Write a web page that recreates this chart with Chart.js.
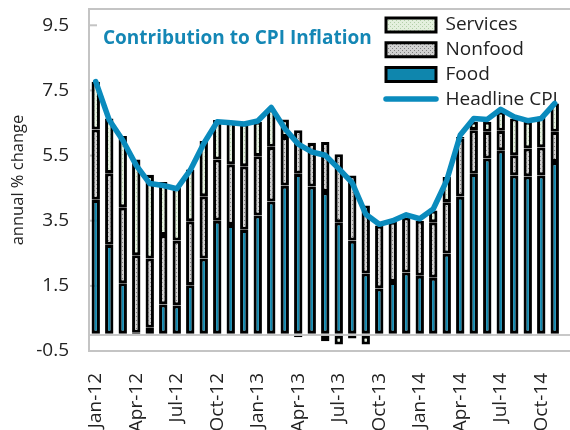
<!DOCTYPE html>
<html lang="en">
<head>
<meta charset="UTF-8">
<title>Contribution to CPI Inflation</title>
<script src="https://cdn.jsdelivr.net/npm/chart.js"></script>
<style>
  body { margin: 0; background: #fff; }
  .wrap { position: relative; width: 570px; height: 430px; overflow: hidden; }
  canvas { display: block; }
  .title { position: absolute; left: 103px; top: 24px; font: bold 19px 'Open Sans', sans-serif; line-height: 26px; color: #1487b5; white-space: nowrap; }
</style>
</head>
<body>
<div class="wrap">
  <!-- a little wider than the window: the plot runs off the right edge, as in the original -->
  <canvas id="cpi" width="575" height="430"></canvas>
  <div class="title">Contribution to CPI Inflation</div>
</div>
<script>
const months = [
  'Jan-12','Feb-12','Mar-12','Apr-12','May-12','Jun-12','Jul-12','Aug-12','Sep-12','Oct-12','Nov-12','Dec-12',
  'Jan-13','Feb-13','Mar-13','Apr-13','May-13','Jun-13','Jul-13','Aug-13','Sep-13','Oct-13','Nov-13','Dec-13',
  'Jan-14','Feb-14','Mar-14','Apr-14','May-14','Jun-14','Jul-14','Aug-14','Sep-14','Oct-14','Nov-14','Dec-14'
];
// contributions, percentage points (Dec-14 not yet in)
const food = [4.14, 2.76, 1.58, 0.06, 0.21, 0.93, 0.90, 1.52, 2.34, 3.50, 3.37, 3.22,
              3.66, 4.09, 4.58, 4.94, 4.55, 4.38, 3.45, 2.89, 1.88, 1.42, 1.62, 1.91,
              1.81, 1.75, 2.49, 4.24, 4.94, 5.41, 5.66, 4.89, 4.86, 4.89, 5.30];
const nonfood = [2.16, 2.20, 2.33, 2.38, 2.13, 2.13, 1.99, 1.96, 1.91, 1.88, 1.86, 1.95,
                 1.82, 1.68, 1.49, 1.34, 1.34, 1.54, 2.09, 2.00, 2.09, 1.93, 1.85, 1.69,
                 1.69, 1.70, 1.58, 1.78, 1.34, 0.82, 0.60, 0.62, 0.86, 0.86, 0.93];
const services = [1.47, 1.68, 2.19, 2.94, 2.57, 1.63, 1.62, 1.59, 1.70, 1.21, 1.31, 1.32,
                  1.06, 1.15, 0.54, -0.08, 0, -0.20, -0.30, -0.12, -0.30, 0, 0, 0,
                  0, 0.36, 0.77, 0.05, 0.26, 0.31, 0.59, 1.13, 0.82, 0.94, 0.87];
const headline = [7.77, 6.59, 5.97, 5.20, 4.64, 4.58, 4.48, 5.05, 5.87, 6.54, 6.51, 6.47,
                  6.56, 6.98, 6.33, 5.85, 5.61, 5.51, 5.10, 4.66, 3.70, 3.39, 3.50, 3.68,
                  3.56, 3.86, 4.74, 6.13, 6.64, 6.61, 6.92, 6.69, 6.57, 6.64, 7.10];
const yTicks = [-0.5, 1.5, 3.5, 5.5, 7.5, 9.5];
const legendOrder = [2, 1, 0, 3];

Chart.defaults.font.family = "'Open Sans', sans-serif";
Chart.defaults.color = '#222';

function hatch(bg, fg) {
  const c = document.createElement('canvas');
  c.width = 4; c.height = 4;
  const g = c.getContext('2d');
  g.fillStyle = bg; g.fillRect(0, 0, 4, 4);
  g.fillStyle = fg; g.fillRect(0, 0, 1, 1); g.fillRect(2, 2, 1, 1);
  return g.createPattern(c, 'repeat');
}

const barStyle = { borderColor: '#000', borderWidth: 3.1, borderSkipped: false, barPercentage: 0.62, categoryPercentage: 1, order: 1 };

// frame round the plot, little inward ticks, and the legend moved into the top right
const frame = {
  id: 'frame',
  afterLayout(chart) {
    const lg = chart.legend, pad = lg.options.labels.padding;
    lg.left = 386 - pad;
    lg.top = 15.5 - pad;
    lg.right = lg.left + lg.width;
    lg.bottom = lg.top + lg.height;
  },
  beforeDatasetsDraw(chart) {
    const { ctx, chartArea: a, scales: { y } } = chart;
    ctx.save();
    ctx.strokeStyle = '#c4c4c4';
    ctx.lineWidth = 2;
    ctx.strokeRect(a.left, a.top, a.right - a.left, a.bottom - a.top);
    yTicks.forEach(v => {
      const py = y.getPixelForValue(v);
      ctx.beginPath(); ctx.moveTo(a.left, py); ctx.lineTo(a.left + 8, py); ctx.stroke();
    });
    ctx.restore();
  }
};

new Chart(document.getElementById('cpi'), {
  type: 'bar',
  data: {
    labels: months,
    datasets: [
      { label: 'Food', data: food, backgroundColor: '#0f86ad', ...barStyle },
      { label: 'Nonfood', data: nonfood, backgroundColor: hatch('#d0d0d0', '#808080'), ...barStyle },
      { label: 'Services', data: services, backgroundColor: hatch('#e4f0de', '#b2cfa8'), ...barStyle },
      { type: 'line', label: 'Headline CPI', data: headline, borderColor: '#0a8bbd', backgroundColor: '#0a8bbd',
        borderWidth: 5.5, pointRadius: 0, tension: 0, fill: false, borderCapStyle: 'round', borderJoinStyle: 'round', order: 0 }
    ]
  },
  options: {
    responsive: false,
    animation: false,
    events: [],
    layout: { padding: { left: 0, top: 9, right: 0, bottom: 0 } },
    scales: {
      x: {
        stacked: true,
        grid: { display: false },
        border: { display: true, color: '#c4c4c4', width: 2 },
        afterFit: s => { s.height = 79; s.paddingLeft = 0; s.paddingRight = 0; },
        ticks: {
          autoSkip: false, minRotation: 90, maxRotation: 90, padding: 14,
          font: { size: 19 }, color: '#222',
          callback: (v, i) => (i % 3 === 0 ? months[i] : '')
        }
      },
      y: {
        stacked: true,
        min: -0.5, max: 10,
        afterBuildTicks: s => { s.ticks = [0].concat(yTicks).map(v => ({ value: v })); },
        afterFit: s => { s.width = 89; s.paddingTop = 0; s.paddingBottom = 0; },
        grid: {
          drawTicks: false, tickLength: 0, lineWidth: 2,
          color: c => (c.tick && c.tick.value === 0 ? '#c8c8c8' : 'rgba(0,0,0,0)')
        },
        border: { display: true, color: '#c4c4c4', width: 2 },
        ticks: {
          padding: 20, font: { size: 19 }, color: '#222',
          callback: v => (v === 0 ? '' : v.toFixed(1))
        },
        title: { display: true, text: 'annual % change', font: { size: 16.5 }, color: '#222', padding: { top: 8, bottom: 0 } }
      }
    },
    plugins: {
      tooltip: { enabled: false },
      legend: {
        position: 'chartArea',
        align: 'start',
        labels: {
          usePointStyle: true, pointStyleWidth: 50, boxHeight: 14, padding: 5.7,
          font: { size: 19 }, color: '#222',
          sort: (a, b) => legendOrder.indexOf(a.datasetIndex) - legendOrder.indexOf(b.datasetIndex),
          generateLabels(chart) {
            const items = Chart.defaults.plugins.legend.labels.generateLabels(chart);
            items.forEach(it => {
              if (it.datasetIndex < 3) { it.pointStyle = 'rect'; it.lineWidth = 3; it.strokeStyle = '#000'; }
              else { it.pointStyle = 'line'; it.lineWidth = 5.5; it.lineCap = 'round'; }
            });
            return items;
          }
        }
      }
    }
  },
  plugins: [frame]
});
</script>
</body>
</html>
